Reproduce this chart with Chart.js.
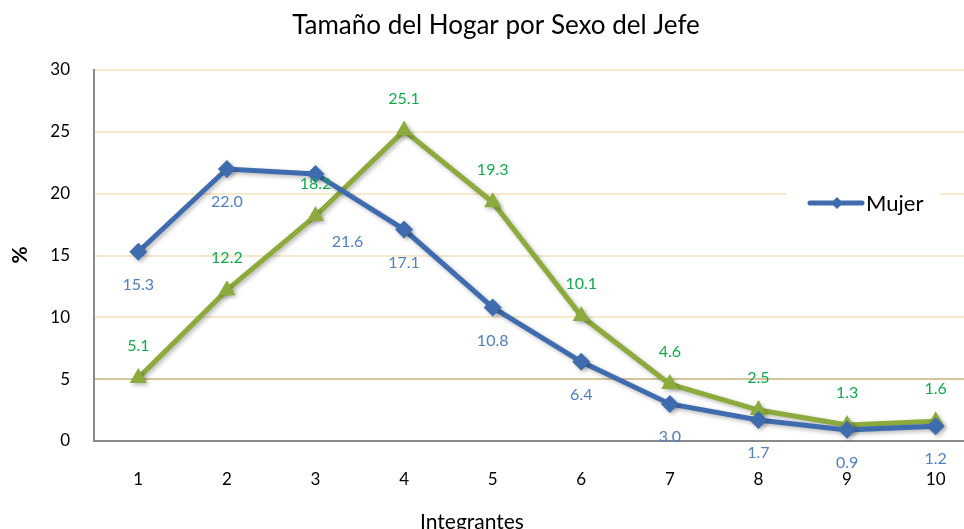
<!DOCTYPE html>
<html lang="es">
<head>
<meta charset="UTF-8">
<title>Tamaño del Hogar por Sexo del Jefe</title>
<script src="https://cdn.jsdelivr.net/npm/chart.js"></script>
<style>
  body { margin: 0; background: #fff; }
  #wrap { width: 964px; height: 529px; }
</style>
</head>
<body>
<div id="wrap"><canvas id="hogar"></canvas></div>
<script>
const integrantes = [1, 2, 3, 4, 5, 6, 7, 8, 9, 10];
const mujer = [15.3, 22.0, 21.6, 17.1, 10.8, 6.4, 3.0, 1.7, 0.9, 1.2];
const hombre = [5.1, 12.2, 18.2, 25.1, 19.3, 10.1, 4.6, 2.5, 1.3, 1.6];
const yTicks = [0, 5, 10, 15, 20, 25, 30];

const FONT = 'Lato, "Open Sans", sans-serif';
const BLUE = '#3f6cae';
const GREEN = '#8cab3c';

// texts drawn by hand: title, axis titles, legend, point labels
const textPlugin = {
  id: 'texts',
  beforeDatasetsDraw(chart) {
    const ctx = chart.ctx;
    ctx.save();
    ctx.shadowColor = 'rgba(0,0,0,0.28)';
    ctx.shadowBlur = 4;
    ctx.shadowOffsetX = 2;
    ctx.shadowOffsetY = 2;
  },
  afterDatasetsDraw(chart) {
    const ctx = chart.ctx;
    ctx.restore();
    ctx.save();
    ctx.fillStyle = '#000';
    ctx.textAlign = 'center';
    ctx.textBaseline = 'middle';
    ctx.font = '26px ' + FONT;
    ctx.fillText('Tamaño del Hogar por Sexo del Jefe', 496, 26);
    ctx.font = '21px ' + FONT;
    ctx.fillText('Integrantes', 472, 522);
    ctx.save();
    ctx.translate(20, 255);
    ctx.rotate(-Math.PI / 2);
    ctx.font = 'bold 21px ' + FONT;
    ctx.fillText('%', 0, 0);
    ctx.restore();

    // point labels
    ctx.font = '16px ' + FONT;
    const mMeta = chart.getDatasetMeta(0);
    mMeta.data.forEach((pt, i) => {
      let dx = 0, dy = 33;
      if (i === 2) { dx = 32; dy = 68; }
      ctx.fillStyle = '#4f81c4';
      ctx.fillText(mujer[i].toFixed(1), pt.x + dx, pt.y + dy);
    });
    const hMeta = chart.getDatasetMeta(1);
    hMeta.data.forEach((pt, i) => {
      ctx.fillStyle = '#12ab4c';
      ctx.fillText(hombre[i].toFixed(1), pt.x, pt.y - 32);
    });

    // legend
    ctx.fillStyle = '#fff';
    ctx.fillRect(786, 182, 154, 42);
    ctx.strokeStyle = BLUE;
    ctx.lineWidth = 5;
    ctx.lineCap = 'round';
    ctx.beginPath();
    ctx.moveTo(810, 203);
    ctx.lineTo(862, 203);
    ctx.stroke();
    ctx.fillStyle = BLUE;
    ctx.beginPath();
    ctx.moveTo(837, 197); ctx.lineTo(843, 203); ctx.lineTo(837, 209); ctx.lineTo(831, 203);
    ctx.closePath();
    ctx.fill();
    ctx.fillStyle = '#000';
    ctx.textAlign = 'left';
    ctx.font = '22px ' + FONT;
    ctx.fillText('Mujer', 866, 204);
    ctx.restore();
  }
};

new Chart(document.getElementById('hogar'), {
  type: 'line',
  data: {
    datasets: [{
      label: 'Mujer',
      data: integrantes.map((x, i) => ({ x: x, y: mujer[i] })),
      borderColor: BLUE,
      backgroundColor: BLUE,
      borderWidth: 5,
      pointStyle: 'rectRot',
      pointRadius: 9,
      pointBorderWidth: 0,
      order: 0
    }, {
      label: 'Hombre',
      data: integrantes.map((x, i) => ({ x: x, y: hombre[i] })),
      borderColor: GREEN,
      backgroundColor: GREEN,
      borderWidth: 5,
      pointStyle: 'triangle',
      pointRadius: 10,
      pointBorderWidth: 0,
      order: 1
    }]
  },
  options: {
    responsive: true,
    maintainAspectRatio: false,
    animation: false,
    layout: { autoPadding: false, padding: { top: 70, right: 0, left: 0, bottom: 0 } },
    plugins: { legend: { display: false }, tooltip: { enabled: false } },
    scales: {
      x: {
        type: 'linear',
        min: 0.5,
        max: 10.32,
        afterBuildTicks(scale) { scale.ticks = integrantes.map(v => ({ value: v })); },
        afterFit(scale) { scale.height = 88; },
        grid: { display: false, drawTicks: false },
        border: { color: '#8a8a8a', width: 2 },
        // empty first line pushes the number down without a big tick padding
        ticks: { padding: 8, color: '#000', font: { family: FONT, size: 17 }, maxRotation: 0,
                 callback: v => ['', String(v)] }
      },
      y: {
        min: 0,
        max: 30,
        afterBuildTicks(scale) { scale.ticks = yTicks.map(v => ({ value: v })); },
        afterFit(scale) { scale.width = 94; },
        grid: { drawTicks: false, lineWidth: 2,
                color: c => c.tick && c.tick.value === 5 ? '#d6c49c' : '#f8e8cc' },
        border: { color: '#8a8a8a', width: 2 },
        ticks: { padding: 24, color: '#000', font: { family: FONT, size: 17 } }
      }
    }
  },
  plugins: [textPlugin]
});
</script>
</body>
</html>
